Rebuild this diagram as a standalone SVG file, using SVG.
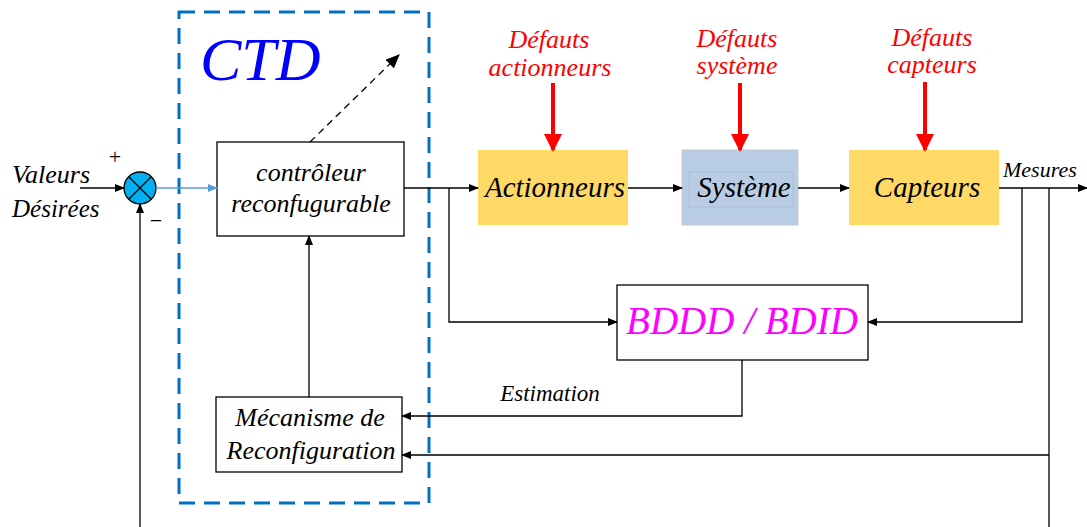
<svg xmlns="http://www.w3.org/2000/svg" width="1087" height="527" viewBox="0 0 1087 527">
<defs>
<marker id="ah" markerWidth="10" markerHeight="8" refX="9" refY="4" orient="auto" markerUnits="userSpaceOnUse"><path d="M0,0 L10,4 L0,8 z" fill="#000"/></marker>
<marker id="ahb" markerWidth="10" markerHeight="8" refX="9" refY="4" orient="auto" markerUnits="userSpaceOnUse"><path d="M0,0 L10,4 L0,8 z" fill="#5B9BD5"/></marker>
<marker id="ahr" markerWidth="18" markerHeight="18" refX="16" refY="9" orient="auto" markerUnits="userSpaceOnUse"><path d="M0,0 L18,9 L0,18 z" fill="#FF0000"/></marker>
<marker id="ahd" markerWidth="14" markerHeight="12" refX="13" refY="6" orient="auto" markerUnits="userSpaceOnUse"><path d="M0,0 L14,6 L0,12 z" fill="#000"/></marker>
</defs>
<style>
text{font-family:"Liberation Serif","Times New Roman",Tinos,"DejaVu Serif",serif}
.t{font-style:italic;fill:#000}
.box{fill:#fff;stroke:#000;stroke-width:1.3}
.ln{fill:none;stroke:#000;stroke-width:1.3}
.red{font-style:italic;fill:#FF0000;font-size:26px;text-anchor:middle}
.ra{stroke:#FF0000;stroke-width:4;fill:none}
</style>
<rect width="1087" height="527" fill="#fff"/>
<g id="ctd">
<rect x="179" y="12" width="250" height="491" fill="none" stroke="#0070C0" stroke-width="3" stroke-dasharray="16,9"/>
<text x="200" y="80" font-style="italic" font-size="62" fill="#0000FF">CTD</text>
</g>
<g id="sum">
<circle cx="140" cy="188" r="16" fill="#00B0F0" stroke="#000" stroke-width="1.3"/>
<path d="M128.7,176.7 L151.3,199.3 M151.3,176.7 L128.7,199.3" stroke="#000" stroke-width="1.3"/>
<text x="115" y="164" font-size="22" text-anchor="middle">+</text>
<text x="156" y="228" font-size="22" text-anchor="middle">−</text>
</g>
<g id="input">
<text class="t" x="12" y="183" font-size="26">Valeurs</text>
<text class="t" x="12" y="217" font-size="25">Désirées</text>
</g>
<g id="controleur">
<rect class="box" x="217" y="142" width="187" height="94"/>
<text class="t" x="311" y="181" font-size="26" text-anchor="middle">contrôleur</text>
<text class="t" x="311" y="212" font-size="26" text-anchor="middle">reconfugurable</text>
</g>
<g id="mecanisme">
<rect class="box" x="216" y="397" width="186" height="75"/>
<text class="t" x="310" y="426" font-size="26" text-anchor="middle">Mécanisme de</text>
<text class="t" x="311" y="459" font-size="26" text-anchor="middle">Reconfiguration</text>
</g>
<g id="actionneurs">
<rect x="478" y="150" width="150" height="75" fill="#FFD966"/>
<text class="t" x="555" y="197" font-size="29" text-anchor="middle">Actionneurs</text>
</g>
<g id="systeme">
<rect x="682" y="150" width="116" height="75" fill="#B8CCE4" stroke="#c8c8c8" stroke-width="1"/>
<rect x="689" y="172" width="104" height="35" fill="none" stroke="#a9b8cc" stroke-width="0.7"/>
<text class="t" x="744" y="197" font-size="29" text-anchor="middle">Système</text>
</g>
<g id="capteurs">
<rect x="849" y="150" width="150" height="75" fill="#FFD966"/>
<text class="t" x="927" y="197" font-size="29" text-anchor="middle">Capteurs</text>
</g>
<g id="bddd">
<rect class="box" x="617" y="285" width="251" height="75"/>
<text x="742" y="334" font-style="italic" font-size="39" fill="#FF00FF" text-anchor="middle">BDDD / BDID</text>
</g>
<g id="defauts">
<text class="red" x="549" y="48">Défauts</text>
<text class="red" x="550" y="76">actionneurs</text>
<text class="red" x="737" y="47">Défauts</text>
<text class="red" x="737" y="74">système</text>
<text class="red" x="932" y="46">Défauts</text>
<text class="red" x="932" y="73">capteurs</text>
</g>
<g id="labels">
<text class="t" x="1003" y="177" font-size="22">Mesures</text>
<text class="t" x="550" y="401" font-size="23" text-anchor="middle">Estimation</text>
</g>
<g id="connectors">
<line class="ln" x1="80" y1="188" x2="124" y2="188" marker-end="url(#ah)"/>
<line x1="156" y1="188" x2="217" y2="188" stroke="#5B9BD5" stroke-width="1.3" marker-end="url(#ahb)"/>
<line x1="310" y1="142" x2="399" y2="55" stroke="#000" stroke-width="1.3" stroke-dasharray="7,5" marker-end="url(#ahd)"/>
<line class="ln" x1="404" y1="188" x2="478" y2="188" marker-end="url(#ah)"/>
<polyline class="ln" points="449,188 449,322 617,322" marker-end="url(#ah)"/>
<line class="ln" x1="628" y1="188" x2="682" y2="188" marker-end="url(#ah)"/>
<line class="ln" x1="798" y1="188" x2="849" y2="188" marker-end="url(#ah)"/>
<line class="ln" x1="999" y1="188" x2="1087" y2="188" marker-end="url(#ah)"/>
<polyline class="ln" points="1022,188 1022,322 868,322" marker-end="url(#ah)"/>
<line class="ln" x1="1049" y1="188" x2="1049" y2="527"/>
<polyline class="ln" points="1049,455 402,455" marker-end="url(#ah)"/>
<polyline class="ln" points="742,360 742,416 402,416" marker-end="url(#ah)"/>
<line class="ln" x1="309" y1="397" x2="309" y2="236" marker-end="url(#ah)"/>
<line class="ln" x1="140" y1="527" x2="140" y2="204" marker-end="url(#ah)"/>
<line class="ra" x1="553" y1="83" x2="553" y2="150" marker-end="url(#ahr)"/>
<line class="ra" x1="740" y1="83" x2="740" y2="150" marker-end="url(#ahr)"/>
<line class="ra" x1="925" y1="82" x2="925" y2="150" marker-end="url(#ahr)"/>
</g>
</svg>
